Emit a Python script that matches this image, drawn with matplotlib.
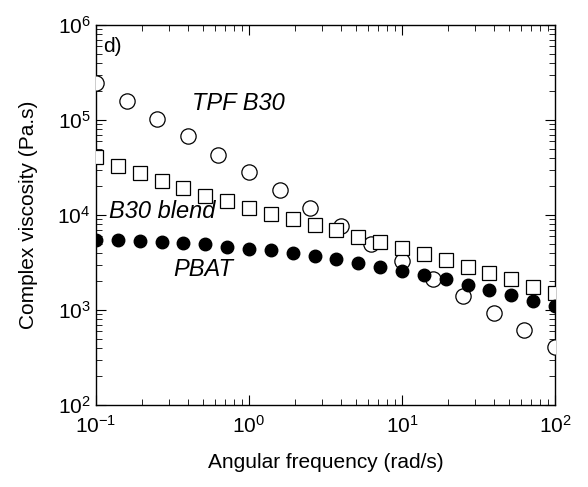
import numpy as np
import matplotlib.pyplot as plt

plt.rcParams['font.family'] = ['Liberation Sans', 'DejaVu Sans']

# angular frequency (rad/s)
freq_fine = 10 ** (-1 + np.arange(22) / 7)
freq_coarse = 10 ** (-1 + np.arange(16) / 5)

# complex viscosity (Pa.s)
pbat = [5460, 5460, 5360, 5200, 5040, 4920, 4640, 4380, 4280, 4010, 3700,
        3420, 3150, 2810, 2590, 2330, 2100, 1830, 1620, 1430, 1250, 1090]
b30_blend = [41100, 33000, 27500, 22800, 19100, 16000, 13900, 11800, 10300,
             9120, 7850, 6950, 5910, 5200, 4490, 3880, 3360, 2850, 2470,
             2100, 1760, 1500]
tpf_b30 = [247000, 160000, 101600, 67900, 42800, 28100, 18300, 11800, 7650,
           4920, 3280, 2120, 1400, 923, 615, 404]

fig = plt.figure(figsize=(5.88, 4.87), dpi=100)
ax = fig.add_axes([96 / 588, 1 - 405 / 487, 459 / 588, 380 / 487])

ax.plot(freq_coarse, tpf_b30, 'o', mfc='white', mec='black', ms=11, mew=0.9,
        zorder=3)
ax.plot(freq_fine, b30_blend, 's', mfc='white', mec='black', ms=9.5, mew=0.9,
        zorder=3)
ax.plot(freq_fine, pbat, 'o', mfc='black', mec='black', ms=9, zorder=4)

ax.set_xscale('log')
ax.set_yscale('log')
ax.set_xlim(0.1, 100)
ax.set_ylim(1e2, 1e6)
for s in ax.spines.values():
    s.set_linewidth(1.0)
ax.tick_params(which='both', direction='in', top=True, right=True,
               labelsize=15)
ax.tick_params(which='major', length=7)
ax.tick_params(axis='x', which='major', pad=7)
ax.tick_params(axis='y', which='major', pad=4)
ax.tick_params(which='minor', length=4)

ax.set_xlabel('Angular frequency (rad/s)', fontsize=15, labelpad=12)
ax.set_ylabel('Complex viscosity (Pa.s)', fontsize=15, labelpad=14)

ax.text(0.112, 5.2e5, 'd)', fontsize=15)
ax.text(0.85, 1.5e5, 'TPF B30', fontsize=17, style='italic', ha='center',
        va='center')
ax.text(0.27, 1.08e4, 'B30 blend', fontsize=17, style='italic', ha='center',
        va='center')
ax.text(0.505, 2.7e3, 'PBAT', fontsize=17, style='italic', ha='center',
        va='center')

plt.savefig('out.png', dpi=100)
